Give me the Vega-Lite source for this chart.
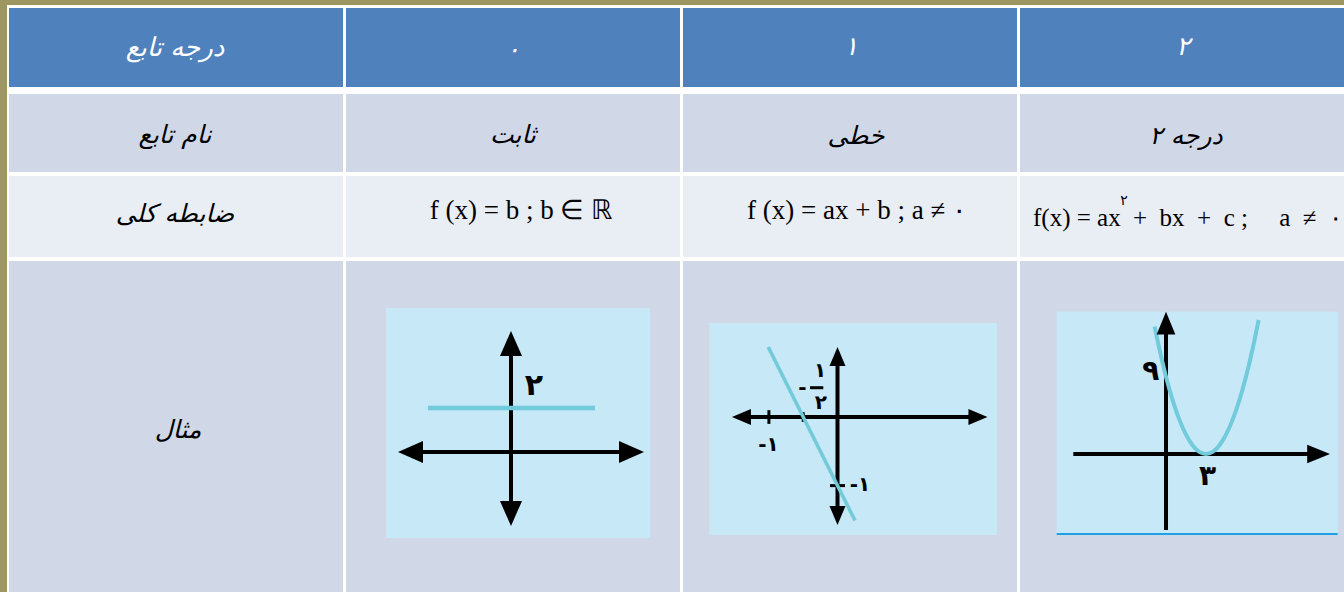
{
  "$schema": "https://vega.github.io/schema/vega-lite/v6.json",
  "width": 1344,
  "height": 592,
  "autosize": {"type": "fit", "contains": "padding"},
  "padding": 0,
  "background": "#9E9660",
  "config": {"view": {"stroke": null}},
  "datasets": {
    "cells": [
      {"x": 7, "x2": 1344, "y": 5, "y2": 592, "kind": "frame"},
      {"x": 9, "x2": 343, "y": 8, "y2": 87, "kind": "head"},
      {"x": 346, "x2": 680, "y": 8, "y2": 87, "kind": "head"},
      {"x": 683, "x2": 1017, "y": 8, "y2": 87, "kind": "head"},
      {"x": 1020, "x2": 1344, "y": 8, "y2": 87, "kind": "head"},
      {"x": 9, "x2": 343, "y": 94, "y2": 172, "kind": "odd"},
      {"x": 346, "x2": 680, "y": 94, "y2": 172, "kind": "odd"},
      {"x": 683, "x2": 1017, "y": 94, "y2": 172, "kind": "odd"},
      {"x": 1020, "x2": 1344, "y": 94, "y2": 172, "kind": "odd"},
      {"x": 9, "x2": 343, "y": 176, "y2": 257, "kind": "even"},
      {"x": 346, "x2": 680, "y": 176, "y2": 257, "kind": "even"},
      {"x": 683, "x2": 1017, "y": 176, "y2": 257, "kind": "even"},
      {"x": 1020, "x2": 1344, "y": 176, "y2": 257, "kind": "even"},
      {"x": 9, "x2": 343, "y": 261, "y2": 592, "kind": "odd"},
      {"x": 346, "x2": 680, "y": 261, "y2": 592, "kind": "odd"},
      {"x": 683, "x2": 1017, "y": 261, "y2": 592, "kind": "odd"},
      {"x": 1020, "x2": 1344, "y": 261, "y2": 592, "kind": "odd"}
    ],
    "headText": [
      {"t": "درجه تابع", "x": 175, "y": 48},
      {"t": "۰", "x": 513, "y": 50},
      {"t": "۱", "x": 851, "y": 47},
      {"t": "۲", "x": 1183, "y": 47}
    ],
    "bodyText": [
      {"t": "نام تابع", "x": 175, "y": 135},
      {"t": "ثابت", "x": 513, "y": 135},
      {"t": "خطی", "x": 856, "y": 136},
      {"t": "درجه ۲", "x": 1186, "y": 136},
      {"t": "ضابطه کلی", "x": 175, "y": 214},
      {"t": "مثال", "x": 178, "y": 430}
    ],
    "formulaC": [
      {"t": "f (x) = b ; b ∈ ℝ", "x": 521, "y": 211},
      {"t": "f (x) = ax + b ; a ≠ ۰", "x": 857, "y": 211}
    ],
    "formulaL": [
      {"t": "f(x) = ax", "x": 1033, "y": 218},
      {"t": "+\u00a0\u00a0bx\u00a0\u00a0+\u00a0\u00a0c\u00a0;\u00a0\u00a0\u00a0\u00a0\u00a0a\u00a0\u00a0≠\u00a0\u00a0۰", "x": 1133, "y": 218}
    ],
    "supText": [
      {"t": "۲", "x": 1124, "y": 201}
    ],
    "a_bg": [{"x": -5.682, "x2": 6.318, "y": -3.909, "y2": 6.545}],
    "a_axes": [
      {"x": -4.568, "x2": 5.477, "y": 0, "y2": 0},
      {"x": 0, "x2": 0, "y": -2.795, "y2": 4.932}
    ],
    "a_curve": [{"x": -3.773, "y": 2}, {"x": 3.818, "y": 2}],
    "a_arrows": [
      {"x": -4.568, "y": 0, "dir": "left"},
      {"x": 5.477, "y": 0, "dir": "right"},
      {"x": 0, "y": 4.932, "dir": "up"},
      {"x": 0, "y": -2.795, "dir": "down"}
    ],
    "a_lab": [{"x": 1.045, "y": 3.0, "t": "۲"}],
    "b_bg": [{"x": -1.867, "x2": 2.325, "y": -1.72, "y2": 1.37}],
    "b_axes": [
      {"x": -1.4, "x2": 2.047, "y": 0, "y2": 0},
      {"x": 0, "x2": 0, "y": -1.436, "y2": 0.882}
    ],
    "b_ticks": [
      {"x": -1, "x2": -1, "y": -0.1, "y2": 0.1},
      {"x": -0.5, "x2": -0.5, "y": -0.07, "y2": 0.07},
      {"x": -0.109, "x2": 0.109, "y": -1, "y2": -1},
      {"x": -0.401, "x2": -0.207, "y": 0.427, "y2": 0.427}
    ],
    "b_curve": [{"x": -1.01, "y": 1.02}, {"x": 0.255, "y": -1.51}],
    "b_arrows": [
      {"x": -1.4, "y": 0, "dir": "left"},
      {"x": 2.047, "y": 0, "dir": "right"},
      {"x": 0, "y": 0.882, "dir": "up"},
      {"x": 0, "y": -1.436, "dir": "down"}
    ],
    "b_lab": [
      {"x": -1.005, "y": -0.401, "t": "-۱"},
      {"x": -0.51, "y": 0.427, "t": "-"},
      {"x": -0.255, "y": 0.671, "t": "۱"},
      {"x": -0.241, "y": 0.204, "t": "۲"},
      {"x": 0.328, "y": -0.991, "t": "-۱"}
    ],
    "c_bg": [{"x": -8.2, "x2": 12.881, "y": -9.43, "y2": 16.566}],
    "c_edge": [{"x": -8.2, "x2": 12.881, "y": -9.313, "y2": -9.313}],
    "c_axes": [
      {"x": -6.954, "x2": 11.448, "y": 0, "y2": 0},
      {"x": 0, "x2": 0, "y": -8.848, "y2": 15.239}
    ],
    "c_curve": [
      {"x": -0.85, "y": 14.82},
      {"x": -0.5, "y": 12.25},
      {"x": 0, "y": 9},
      {"x": 0.5, "y": 6.25},
      {"x": 1, "y": 4},
      {"x": 1.5, "y": 2.25},
      {"x": 2, "y": 1},
      {"x": 2.5, "y": 0.25},
      {"x": 3, "y": 0},
      {"x": 3.5, "y": 0.25},
      {"x": 4, "y": 1},
      {"x": 4.5, "y": 2.25},
      {"x": 5, "y": 4},
      {"x": 5.5, "y": 6.25},
      {"x": 6, "y": 9},
      {"x": 6.5, "y": 12.25},
      {"x": 6.95, "y": 15.6}
    ],
    "c_arrows": [
      {"x": 11.448, "y": 0, "dir": "right"},
      {"x": 0, "y": 15.239, "dir": "up"}
    ],
    "c_lab": [
      {"x": -1.148, "y": 9.488, "t": "۹"},
      {"x": 3.11, "y": -2.64, "t": "۳"}
    ]
  },
  "resolve": {"scale": {"x": "independent", "y": "independent", "shape": "independent", "color": "independent"}},
  "layer": [
    {
      "encoding": {
        "x": {"field": "x", "type": "quantitative", "scale": {"domain": [0, 1344], "nice": false, "zero": false}, "axis": null},
        "y": {"field": "y", "type": "quantitative", "scale": {"domain": [0, 592], "nice": false, "zero": false, "reverse": true}, "axis": null}
      },
      "layer": [
        {
          "data": {"name": "cells"},
          "mark": {"type": "rect"},
          "encoding": {
            "x2": {"field": "x2"},
            "y2": {"field": "y2"},
            "color": {"field": "kind", "type": "nominal", "scale": {"domain": ["frame", "head", "odd", "even"], "range": ["#FFFFFF", "#4F81BD", "#D0D8E8", "#E9EDF4"]}, "legend": null}
          }
        },
        {
          "data": {"name": "headText"},
          "mark": {"type": "text", "font": "DejaVu Sans", "fontSize": 26, "fontStyle": "italic", "color": "#FFFFFF", "align": "center", "baseline": "middle"},
          "encoding": {"text": {"field": "t"}}
        },
        {
          "data": {"name": "bodyText"},
          "mark": {"type": "text", "font": "DejaVu Sans", "fontSize": 25, "fontStyle": "italic", "color": "#000000", "align": "center", "baseline": "middle"},
          "encoding": {"text": {"field": "t"}}
        },
        {
          "data": {"name": "formulaC"},
          "mark": {"type": "text", "font": "Liberation Serif", "fontSize": 27, "color": "#000000", "align": "center", "baseline": "middle"},
          "encoding": {"text": {"field": "t"}}
        },
        {
          "data": {"name": "formulaL"},
          "mark": {"type": "text", "font": "Liberation Serif", "fontSize": 25, "color": "#000000", "align": "left", "baseline": "middle"},
          "encoding": {"text": {"field": "t"}}
        },
        {
          "data": {"name": "supText"},
          "mark": {"type": "text", "font": "DejaVu Sans", "fontSize": 14, "color": "#000000", "align": "center", "baseline": "middle"},
          "encoding": {"text": {"field": "t"}}
        }
      ]
    },
    {
      "encoding": {
        "x": {"field": "x", "type": "quantitative", "scale": {"domain": [-23.227, 37.864], "nice": false, "zero": false}, "axis": null},
        "y": {"field": "y", "type": "quantitative", "scale": {"domain": [-6.364, 20.545], "nice": false, "zero": false}, "axis": null}
      },
      "layer": [
        {"data": {"name": "a_bg"}, "mark": {"type": "rect", "color": "#C6E8F7"}, "encoding": {"x2": {"field": "x2"}, "y2": {"field": "y2"}}},
        {"data": {"name": "a_axes"}, "mark": {"type": "rule", "color": "#000000", "strokeWidth": 4}, "encoding": {"x2": {"field": "x2"}, "y2": {"field": "y2"}}},
        {"data": {"name": "a_curve"}, "mark": {"type": "line", "color": "#72CBDA", "strokeWidth": 4.5, "strokeCap": "butt"}, "encoding": {}},
        {"data": {"name": "a_arrows"}, "mark": {"type": "point", "filled": true, "color": "#000000", "opacity": 1, "size": 625},
          "encoding": {"shape": {"field": "dir", "type": "nominal", "scale": {"domain": ["left", "right", "up", "down"], "range": ["M-1,0L1,-0.88L1,0.88Z", "M1,0L-1,-0.88L-1,0.88Z", "M0,-1L-0.88,1L0.88,1Z", "M0,1L-0.88,-1L0.88,-1Z"]}, "legend": null}}},
        {"data": {"name": "a_lab"}, "mark": {"type": "text", "font": "DejaVu Sans", "fontWeight": "bold", "fontSize": 30, "color": "#000000", "align": "center", "baseline": "middle"}, "encoding": {"text": {"field": "t"}}}
      ]
    },
    {
      "encoding": {
        "x": {"field": "x", "type": "quantitative", "scale": {"domain": [-12.208, 7.383], "nice": false, "zero": false}, "axis": null},
        "y": {"field": "y", "type": "quantitative", "scale": {"domain": [-2.551, 6.079], "nice": false, "zero": false}, "axis": null}
      },
      "layer": [
        {"data": {"name": "b_bg"}, "mark": {"type": "rect", "color": "#C6E8F7"}, "encoding": {"x2": {"field": "x2"}, "y2": {"field": "y2"}}},
        {"data": {"name": "b_axes"}, "mark": {"type": "rule", "color": "#000000", "strokeWidth": 4}, "encoding": {"x2": {"field": "x2"}, "y2": {"field": "y2"}}},
        {"data": {"name": "b_ticks"}, "mark": {"type": "rule", "color": "#000000", "strokeWidth": 3}, "encoding": {"x2": {"field": "x2"}, "y2": {"field": "y2"}}},
        {"data": {"name": "b_curve"}, "mark": {"type": "line", "color": "#72CBDA", "strokeWidth": 3.5, "strokeCap": "butt"}, "encoding": {}},
        {"data": {"name": "b_arrows"}, "mark": {"type": "point", "filled": true, "color": "#000000", "opacity": 1, "size": 361},
          "encoding": {"shape": {"field": "dir", "type": "nominal", "scale": {"domain": ["left", "right", "up", "down"], "range": ["M-1,0L1,-0.84L1,0.84Z", "M1,0L-1,-0.84L-1,0.84Z", "M0,-1L-0.84,1L0.84,1Z", "M0,1L-0.84,-1L0.84,-1Z"]}, "legend": null}}},
        {"data": {"name": "b_lab"}, "mark": {"type": "text", "font": "DejaVu Sans", "fontWeight": "bold", "fontSize": 20, "color": "#000000", "align": "center", "baseline": "middle"}, "encoding": {"text": {"field": "t"}}}
      ]
    },
    {
      "encoding": {
        "x": {"field": "x", "type": "quantitative", "scale": {"domain": [-87.472, 13.353], "nice": false, "zero": false}, "axis": null},
        "y": {"field": "y", "type": "quantitative", "scale": {"domain": [-16.065, 52.852], "nice": false, "zero": false}, "axis": null}
      },
      "layer": [
        {"data": {"name": "c_bg"}, "mark": {"type": "rect", "color": "#C6E8F7"}, "encoding": {"x2": {"field": "x2"}, "y2": {"field": "y2"}}},
        {"data": {"name": "c_edge"}, "mark": {"type": "rule", "color": "#1DA1E4", "strokeWidth": 2}, "encoding": {"x2": {"field": "x2"}, "y2": {"field": "y2"}}},
        {"data": {"name": "c_axes"}, "mark": {"type": "rule", "color": "#000000", "strokeWidth": 4}, "encoding": {"x2": {"field": "x2"}, "y2": {"field": "y2"}}},
        {"data": {"name": "c_curve"}, "mark": {"type": "line", "color": "#72CBDA", "strokeWidth": 4, "strokeCap": "butt", "interpolate": "monotone"}, "encoding": {}},
        {"data": {"name": "c_arrows"}, "mark": {"type": "point", "filled": true, "color": "#000000", "opacity": 1, "size": 520},
          "encoding": {"shape": {"field": "dir", "type": "nominal", "scale": {"domain": ["right", "up"], "range": ["M1,0L-1,-0.82L-1,0.82Z", "M0,-1L-0.82,1L0.82,1Z"]}, "legend": null}}},
        {"data": {"name": "c_lab"}, "mark": {"type": "text", "font": "DejaVu Sans", "fontWeight": "bold", "fontSize": 28, "color": "#000000", "align": "center", "baseline": "middle"}, "encoding": {"text": {"field": "t"}}}
      ]
    }
  ]
}
